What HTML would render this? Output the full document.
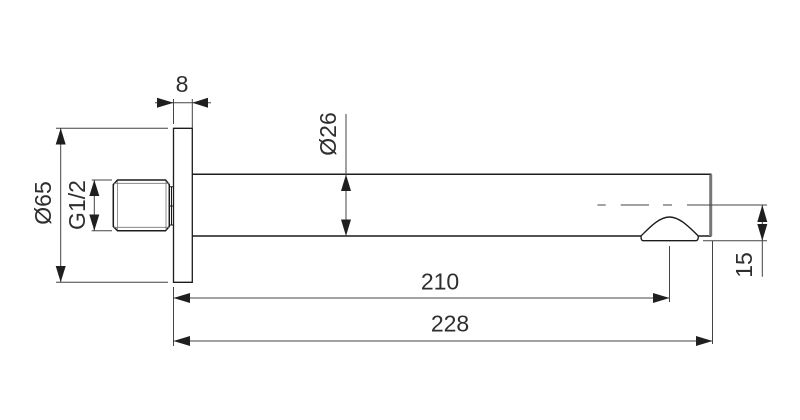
<!DOCTYPE html>
<html>
<head>
<meta charset="utf-8">
<style>
html,body{margin:0;padding:0;background:#fff;width:800px;height:420px;overflow:hidden}
svg{display:block;filter:blur(.35px)}
text{font-family:"Liberation Sans",sans-serif;font-size:23px;fill:#2e2e2e;text-anchor:middle}
</style>
</head>
<body>
<svg width="800" height="420" viewBox="0 0 800 420" xmlns="http://www.w3.org/2000/svg">
<rect width="800" height="420" fill="#fff"/>

<!-- object outlines -->
<g fill="none" stroke="#1c1c1c" stroke-width="1.5">
  <path d="M173.5 128.3H192.3V282.3H173.5Z" stroke-width="1.3"/>
  <path d="M192.3 174.3H710.7V236H698" />
  <path d="M192.3 236H641"/>
  <path d="M117.5 180H165.5L169.3 184.5V226.5L165.5 230.7H117.5L113.3 226.5V184.5Z"/>
  <path d="M641 236Q641 240.7 643 240.7H696Q698.3 240.7 698.3 236C690 228 680 217 669.5 217C659 217 649 228 641 236Z" stroke-width="1.4"/>
  <path d="M170 186.7H173M170 206H173M170 225H173M171.5 186.7V225" stroke-width="1"/>
</g>
<path d="M114 183.3H169M114 227.3H169M117.5 181V230M166 181V230" stroke="#777" stroke-width=".8" fill="none"/>
<path d="M710.7 174.5V236" stroke="#777" stroke-width="3" fill="none"/>

<!-- dimension + extension lines -->
<g fill="none" stroke="#444" stroke-width="1">
  <path d="M155 102.7H211"/>
  <path d="M173.5 99V124M192.3 99V128"/>
  <path d="M56 128.3H168M56 282.3H168M60.7 128.3V282.3"/>
  <path d="M91.7 180H112M91.7 230.7H112M94.3 180V230.7"/>
  <path d="M346 114V236"/>
  <path d="M173.5 287V346M173.5 298H669.5M669.5 246V302"/>
  <path d="M173.5 341H712.5M712.5 241V344"/>
  <path d="M597.5 205H605.7M620.7 205H649M663 205H672M687 205H767"/>
  <path d="M703 240.7H767M762.3 205V276.7"/>
</g>

<!-- arrowheads -->
<g fill="#1f1f1f" stroke="none">
  <path d="M173.5 102.7L157 97.7V107.7Z"/>
  <path d="M192.3 102.7L208 97.7V107.7Z"/>
  <path d="M60.7 128.3L55.7 144.5H65.7Z"/>
  <path d="M60.7 282.3L55.7 266H65.7Z"/>
  <path d="M94.3 180L89.3 196H99.3Z"/>
  <path d="M94.3 230.7L89.3 214.5H99.3Z"/>
  <path d="M346 174.5L341 191H351Z"/>
  <path d="M346 236L341 219.5H351Z"/>
  <path d="M173.5 298L190 293V303Z"/>
  <path d="M669.5 298L653 293V303Z"/>
  <path d="M173.5 341L190 336V346Z"/>
  <path d="M712.5 341L696 336V346Z"/>
  <path d="M762.3 205L757.3 222H767.3Z"/>
  <path d="M762.3 240.7L757.3 224H767.3Z"/>
</g>

<!-- labels -->
<text x="182" y="92">8</text>
<text x="440" y="289.5">210</text>
<text x="450" y="331.7">228</text>
<text transform="translate(51 203) rotate(-90)">Ø65</text>
<text transform="translate(85 205) rotate(-90)">G1/2</text>
<text transform="translate(336 134) rotate(-90)">Ø26</text>
<text transform="translate(752 265) rotate(-90)">15</text>
</svg>
</body>
</html>
